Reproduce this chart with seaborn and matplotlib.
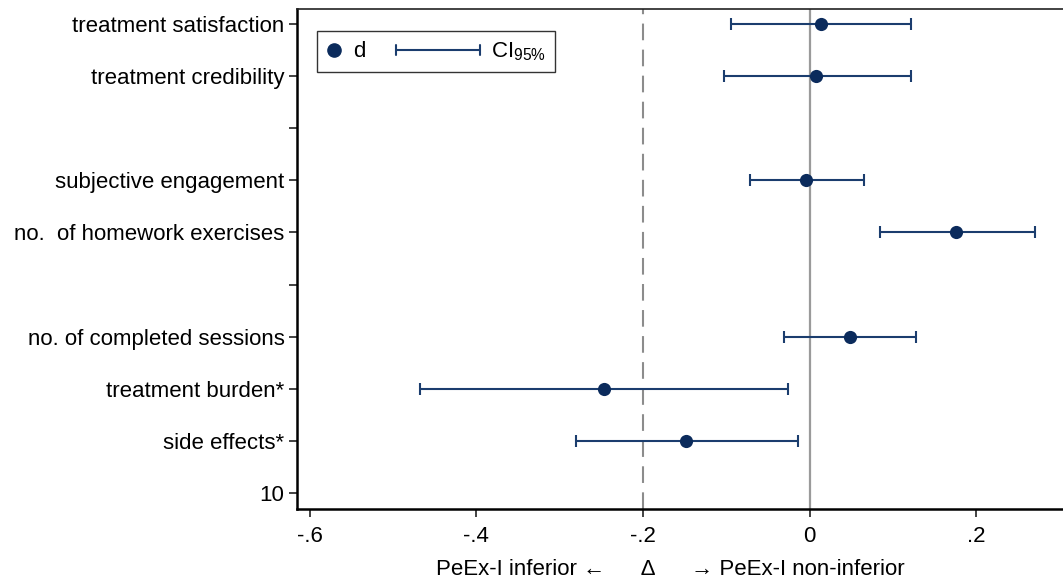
import numpy as np
import pandas as pd
import matplotlib
matplotlib.use("Agg")
import matplotlib.pyplot as plt
import seaborn as sns
from matplotlib.lines import Line2D
from matplotlib.legend_handler import HandlerBase

# ---- data ----
outcomes = ["treatment satisfaction", "treatment credibility",
            "subjective engagement", "no.  of homework exercises",
            "no. of completed sessions", "treatment burden*", "side effects*"]
rows = [1, 2, 4, 5, 7, 8, 9]
d_values = [0.013, 0.008, -0.004, 0.176, 0.048, -0.247, -0.148]
ci_low = [-0.094, -0.103, -0.072, 0.084, -0.031, -0.467, -0.280]
ci_high = [0.121, 0.121, 0.065, 0.270, 0.127, -0.026, -0.014]
ytick_pos = list(range(1, 11))
ytick_labels = ["treatment satisfaction", "treatment credibility", "",
                "subjective engagement", "no.  of homework exercises", "",
                "no. of completed sessions", "treatment burden*", "side effects*", "10"]
xtick_pos = [-0.6, -0.4, -0.2, 0.0, 0.2]
xtick_labels = ["-.6", "-.4", "-.2", "0", ".2"]
margin = -0.2

df = pd.DataFrame({"outcome": outcomes, "row": rows, "d": d_values,
                   "lo": ci_low, "hi": ci_high})

sns.set_theme(style="white")
plt.rcParams["font.family"] = ["Liberation Sans", "DejaVu Sans"]
plt.rcParams["text.color"] = "black"
plt.rcParams["xtick.color"] = "black"
plt.rcParams["ytick.color"] = "black"
plt.rcParams["axes.labelcolor"] = "black"
FS = 16
navy = "#0b2b5c"
barc = "#1b3d6e"

fig = plt.figure(figsize=(10.63, 5.83), dpi=100)
ax = fig.add_axes([297/1063, 1 - 509/583, 1 - 297/1063 + 0.01, (509 - 9)/583])

ax.axvline(0, color="#9a9a9a", lw=1.6, zorder=1)
ax.axvline(margin, color="#8c8c8c", lw=1.5, ls=(0, (8, 4.5)), zorder=1)

ax.errorbar(df["d"], df["row"],
            xerr=[df["d"] - df["lo"], df["hi"] - df["d"]],
            fmt="none", ecolor=barc, elinewidth=1.5, capsize=4.2, capthick=1.5, zorder=2)
sns.scatterplot(data=df, x="d", y="row", color=navy, s=90, edgecolor=navy,
                linewidth=0, zorder=3, ax=ax, legend=False)

ax.set_xlim(-0.615, 0.3165)
ax.set_ylim(10.3, 0.72)
ax.set_yticks(ytick_pos)
ax.set_yticklabels(ytick_labels, fontsize=FS, color="black")
ax.set_xticks(xtick_pos)
ax.set_xticklabels(xtick_labels, fontsize=FS, color="black")
ax.tick_params(axis="both", which="both", direction="out", length=6, width=1.2,
               color="#222222", left=True, bottom=True)
ax.tick_params(axis="y", pad=3)
ax.tick_params(axis="x", pad=6)
ax.set_ylabel("")
ax.set_xlabel("PeEx-I inferior \u2190      \u0394      \u2192 PeEx-I non-inferior",
              fontsize=FS, color="black")
ax.xaxis.set_label_coords((665 - 297) / 766, -0.1)

for s in ["left", "bottom"]:
    ax.spines[s].set_color("black")
    ax.spines[s].set_linewidth(1.8)
ax.spines["top"].set_color("#222222")
ax.spines["top"].set_linewidth(1.2)
ax.spines["right"].set_visible(False)


class HandlerCI(HandlerBase):
    def create_artists(self, legend, orig_handle, xdescent, ydescent,
                       width, height, fontsize, trans):
        y = height / 2 - ydescent
        x0 = width - 84 / 100 * 72
        x1 = width
        line = Line2D([x0, x1], [y, y], color=barc, lw=1.5, transform=trans)
        c0 = Line2D([x0, x0], [y - 3.6, y + 3.6], color=barc, lw=1.5, transform=trans)
        c1 = Line2D([x1, x1], [y - 3.6, y + 3.6], color=barc, lw=1.5, transform=trans)
        return [line, c0, c1]


class CIProxy:
    pass


h_d = Line2D([], [], ls="none", marker="o", color=navy, markersize=9.5)
h_ci = CIProxy()
leg = ax.legend([h_d, h_ci], ["d", r"CI$_{\mathregular{95\%}}$"],
                handler_map={CIProxy: HandlerCI()},
                loc="upper left", bbox_to_anchor=(0.0255, 0.956), ncol=2,
                fontsize=FS, frameon=True, fancybox=False, handlelength=0.7,
                handletextpad=0.5, columnspacing=4.45, borderpad=0.42,
                borderaxespad=0)
leg.get_frame().set_edgecolor("black")
leg.get_frame().set_linewidth(1.0)
for t in leg.get_texts():
    t.set_color("black")

fig.savefig("out.png", dpi=100)
